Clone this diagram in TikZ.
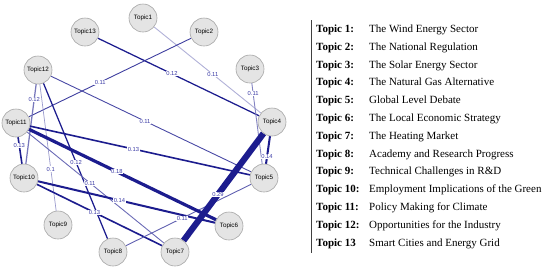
\documentclass[tikz,border=0pt]{standalone}
\usepackage{fontspec}
\setmainfont{Liberation Serif}
\setsansfont{Liberation Sans}
\usepackage{xcolor}
\usepackage{tikz}
\usetikzlibrary{backgrounds}

\definecolor{edgeblue}{HTML}{1C1C8E}
\definecolor{labelblue}{HTML}{3A3AA6}
\definecolor{nodefill}{HTML}{E4E4E4}
\definecolor{nodeline}{HTML}{A6A6A6}

\begin{document}
\begin{tikzpicture}[x=1pt, y=-1pt,
    topic/.style={circle, draw=nodeline, fill=nodefill, line width=0.6pt,
                  minimum size=28pt, inner sep=0pt,
                  font=\sffamily\fontsize{6.3}{7}\selectfont},
    link/.style={draw=edgeblue},
    w10/.style={line width=0.7pt},
    w11/.style={line width=0.9pt},
    w12/.style={line width=1.25pt},
    w13/.style={line width=1.6pt},
    w14/.style={line width=2pt},
    w18/.style={line width=3.2pt},
    w29/.style={line width=6.2pt},
    elabel/.style={fill=white, inner sep=0.5pt, text=labelblue,
                   font=\sffamily\fontsize{5.8}{6}\selectfont},
    legend/.style={anchor=base west, inner sep=0pt, font=\fontsize{11}{13}\selectfont},
    rule/.style={draw=black!75, line width=0.8pt}
]
    \useasboundingbox (0,0) rectangle (550,269);

    \node[topic] (t1)  at (143, 18) {Topic1};
    \node[topic] (t2)  at (204, 32) {Topic2};
    \node[topic] (t3)  at (250, 69) {Topic3};
    \node[topic] (t4)  at (272,122) {Topic4};
    \node[topic] (t5)  at (264,178) {Topic5};
    \node[topic] (t6)  at (229,226) {Topic6};
    \node[topic] (t7)  at (175,252) {Topic7};
    \node[topic] (t8)  at (113,252) {Topic8};
    \node[topic] (t9)  at ( 58,225) {Topic9};
    \node[topic] (t10) at ( 24,178) {Topic10};
    \node[topic] (t11) at ( 16,123) {Topic11};
    \node[topic] (t12) at ( 38, 70) {Topic12};
    \node[topic] (t13) at ( 85, 32) {Topic13};

    % Edges, under the circles
    \begin{scope}[on background layer]
    \draw[link, w11, draw=edgeblue!35] (t1)  -- node[elabel, pos=0.55]{0.11} (t4);
    \draw[link, w12]                   (t13) -- node[elabel, pos=0.46]{0.12} (t4);
    \draw[link, w11, draw=edgeblue!85] (t2)  -- node[elabel, pos=0.56]{0.11} (t11);
    \draw[link, w11, draw=edgeblue!55] (t3)  -- node[elabel, pos=0.13]{0.11} (t5);
    \draw[link, w14]                   (t4)  -- node[elabel, pos=0.74]{0.14} (t5);
    \draw[link, w11, draw=edgeblue!80] (t12) -- node[elabel, pos=0.47]{0.11} (t5);
    \draw[link, w12, draw=edgeblue!60] (t12) -- node[elabel, pos=0.19]{0.12} (t10);
    \draw[link, w10, draw=edgeblue!45] (t12) -- node[elabel, pos=0.67]{0.1}  (t9);
    \draw[link, w12]                   (t12) -- node[elabel, pos=0.51]{0.12} (t8);
    \draw[link, w13]                   (t11) -- node[elabel, pos=0.30]{0.13} (t10);
    \draw[link, w13]                   (t11) -- node[elabel, pos=0.47]{0.13} (t5);
    \draw[link, w11, draw=edgeblue!65] (t11) -- node[elabel, pos=0.46]{0.11} (t7);
    \draw[link, w14]                   (t10) -- node[elabel, pos=0.46]{0.14} (t6);
    \draw[link, w13]                   (t10) -- node[elabel, pos=0.46]{0.13} (t7);
    \draw[link, w11, draw=edgeblue!70] (t8)  -- node[elabel, pos=0.45]{0.11} (t5);
    \draw[link, w18]                   (t11) -- node[elabel, pos=0.47]{0.18} (t6);
    \draw[link, w29]                   (t4)  -- node[elabel, pos=0.57]{0.29} (t7);
    \end{scope}

    % Legend
    \coordinate (legtop) at (311, 20);
    \coordinate (legbot) at (311,253);
    \draw[rule] (legtop) -- (legbot);

    \node[legend] (k1)  at (316, 32.5) {\makebox[53pt][l]{\textbf{Topic 1:}}The Wind Energy Sector};
    \node[legend] (k2)  at (316, 50.3) {\makebox[53pt][l]{\textbf{Topic 2:}}The National Regulation};
    \node[legend] (k3)  at (316, 68.1) {\makebox[53pt][l]{\textbf{Topic 3:}}The Solar Energy Sector};
    \node[legend] (k4)  at (316, 85.9) {\makebox[53pt][l]{\textbf{Topic 4:}}The Natural Gas Alternative};
    \node[legend] (k5)  at (316,103.7) {\makebox[53pt][l]{\textbf{Topic 5:}}Global Level Debate};
    \node[legend] (k6)  at (316,121.5) {\makebox[53pt][l]{\textbf{Topic 6:}}The Local Economic Strategy};
    \node[legend] (k7)  at (316,139.3) {\makebox[53pt][l]{\textbf{Topic 7:}}The Heating Market};
    \node[legend] (k8)  at (316,157.1) {\makebox[53pt][l]{\textbf{Topic 8:}}Academy and Research Progress};
    \node[legend] (k9)  at (316,174.9) {\makebox[53pt][l]{\textbf{Topic 9:}}Technical Challenges in R\&D};
    \node[legend] (k10) at (316,192.7) {\makebox[53pt][l]{\textbf{Topic 10:}}Employment Implications of the Green};
    \node[legend] (k11) at (316,210.5) {\makebox[53pt][l]{\textbf{Topic 11:}}Policy Making for Climate};
    \node[legend] (k12) at (316,228.3) {\makebox[53pt][l]{\textbf{Topic 12:}}Opportunities for the Industry};
    \node[legend] (k13) at (316,246.1) {\makebox[53pt][l]{\textbf{Topic 13}}Smart Cities and Energy Grid};
\end{tikzpicture}
\end{document}
